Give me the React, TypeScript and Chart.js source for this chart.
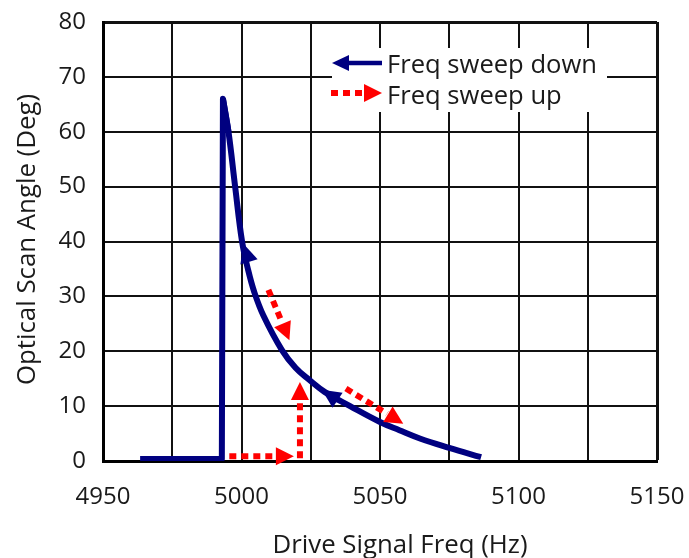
import React, { useEffect, useRef } from 'react';
import { Chart, registerables } from 'chart.js';
Chart.register(...registerables);

// Axis ranges
const X_MIN = 4950;
const X_MAX = 5150;
const X_STEP = 25;
const X_LABEL_STEP = 50;
const Y_MIN = 0;
const Y_MAX = 80;
const Y_STEP = 10;

// Frequency sweep down: flat part and jump (straight segments)
const JUMP_FREQ = [4963.4, 4992.9, 4993.3, 4995.3];
const JUMP_ANGLE = [0.36, 0.36, 66.0, 60];

// Frequency sweep down: decay from the peak (smooth curve)
const DECAY_FREQ = [4993.3, 4995.3, 4997.7, 5000.2, 5002.4, 5004.6, 5007.9, 5014.6, 5019.5, 5024.4, 5030, 5039.2, 5050, 5057, 5064.4, 5075, 5086.5];
const DECAY_ANGLE = [66.0, 60, 50, 40, 34.8, 30.8, 26.5, 20.2, 17.0, 14.8, 12.6, 10.0, 7.1, 5.6, 4.1, 2.4, 0.7];

// Arrowheads on sweep-down curve (from -> tip)
const DOWN_HEAD_FROM_X = [5003.0, 5034.3];
const DOWN_HEAD_FROM_Y = [35.8, 11.2];
const DOWN_HEAD_TIP_X = [5000.7, 5029.0];
const DOWN_HEAD_TIP_Y = [39.6, 13.0];

// Frequency sweep up arrows (from -> tip)
const UP_FROM_X = [5009.7, 4995.6, 5021.1, 5037.7];
const UP_FROM_Y = [31.2, 0.85, 0.5, 13.2];
const UP_TIP_X = [5017.3, 5018.9, 5021.1, 5058.4];
const UP_TIP_Y = [22.0, 0.85, 14.4, 6.8];

const LEGEND_LABELS = ['Freq sweep down', 'Freq sweep up'];
const X_TITLE = 'Drive Signal Freq (Hz)';
const Y_TITLE = 'Optical Scan Angle (Deg)';

const BLUE = '#000080';
const RED = '#ff0000';
const TEXT = '#1a1a1a';
const FONT = "'Open Sans', sans-serif";

function head(ctx: CanvasRenderingContext2D, fx: number, fy: number, tx: number, ty: number, len: number, hw: number, color: string) {
  const dx = tx - fx, dy = ty - fy;
  const d = Math.hypot(dx, dy) || 1;
  const ux = dx / d, uy = dy / d;
  const bx = tx - ux * len, by = ty - uy * len;
  ctx.beginPath();
  ctx.moveTo(tx, ty);
  ctx.lineTo(bx - uy * hw, by + ux * hw);
  ctx.lineTo(bx + uy * hw, by - ux * hw);
  ctx.closePath();
  ctx.fillStyle = color;
  ctx.fill();
}

function dashedArrow(ctx: CanvasRenderingContext2D, fx: number, fy: number, tx: number, ty: number) {
  const dx = tx - fx, dy = ty - fy;
  const d = Math.hypot(dx, dy) || 1;
  const ux = dx / d, uy = dy / d;
  const len = 18;
  ctx.save();
  ctx.strokeStyle = RED;
  ctx.lineWidth = 6;
  ctx.lineCap = 'butt';
  ctx.setLineDash([7, 5]);
  ctx.beginPath();
  ctx.moveTo(fx, fy);
  ctx.lineTo(tx - ux * (len + 1), ty - uy * (len + 1));
  ctx.stroke();
  ctx.restore();
  head(ctx, fx, fy, tx, ty, len, 9, RED);
}

const arrowsPlugin = {
  id: 'arrows',
  afterDatasetsDraw(chart: any) {
    const { ctx, scales } = chart;
    const xs = scales.x, ys = scales.y;
    ctx.save();
    for (let i = 0; i < DOWN_HEAD_TIP_X.length; i++) {
      head(ctx,
        xs.getPixelForValue(DOWN_HEAD_FROM_X[i]), ys.getPixelForValue(DOWN_HEAD_FROM_Y[i]),
        xs.getPixelForValue(DOWN_HEAD_TIP_X[i]), ys.getPixelForValue(DOWN_HEAD_TIP_Y[i]),
        19, 9, BLUE);
    }
    for (let i = 0; i < UP_TIP_X.length; i++) {
      dashedArrow(ctx,
        xs.getPixelForValue(UP_FROM_X[i]), ys.getPixelForValue(UP_FROM_Y[i]),
        xs.getPixelForValue(UP_TIP_X[i]), ys.getPixelForValue(UP_TIP_Y[i]));
    }
    ctx.restore();
  },
};

const legendPlugin = {
  id: 'customLegend',
  afterDatasetsDraw(chart: any) {
    const { ctx, chartArea } = chart;
    const L = chartArea.left, T = chartArea.top;
    ctx.save();
    ctx.fillStyle = '#ffffff';
    ctx.fillRect(L + 229, T + 26, 275, 64);
    // row 1: blue arrow pointing left
    const y1 = T + 41;
    ctx.strokeStyle = BLUE;
    ctx.lineWidth = 4.5;
    ctx.beginPath();
    ctx.moveTo(L + 244, y1);
    ctx.lineTo(L + 279, y1);
    ctx.stroke();
    head(ctx, L + 279, y1, L + 229, y1, 17, 8, BLUE);
    // row 2: red dotted arrow pointing right
    const y2 = T + 71;
    dashedArrow(ctx, L + 228, y2, L + 279, y2);
    ctx.fillStyle = TEXT;
    ctx.font = `25.6px ${FONT}`;
    ctx.textAlign = 'left';
    ctx.textBaseline = 'alphabetic';
    ctx.fillText(LEGEND_LABELS[0], L + 284, T + 51);
    ctx.fillText(LEGEND_LABELS[1], L + 284, T + 82);
    ctx.restore();
  },
};

const titlesPlugin = {
  id: 'axisTitles',
  afterDraw(chart: any) {
    const { ctx, chartArea } = chart;
    ctx.save();
    ctx.fillStyle = TEXT;
    ctx.font = `25.8px ${FONT}`;
    ctx.textAlign = 'center';
    ctx.textBaseline = 'alphabetic';
    ctx.fillText(X_TITLE, (chartArea.left + chartArea.right) / 2 + 20, chartArea.bottom + 92);
    ctx.translate(chartArea.left - 68, (chartArea.top + chartArea.bottom) / 2 - 2);
    ctx.rotate(-Math.PI / 2);
    ctx.fillText(Y_TITLE, 0, 0);
    ctx.restore();
  },
};

export default function App() {
  const ref = useRef<HTMLCanvasElement>(null);
  useEffect(() => {
    if (!ref.current) return;
    const chart = new Chart(ref.current, {
      type: 'line',
      data: {
        datasets: [
          {
            label: LEGEND_LABELS[0],
            data: JUMP_FREQ.map((x, i) => ({ x, y: JUMP_ANGLE[i] })),
            borderColor: BLUE,
            backgroundColor: BLUE,
            borderWidth: 6,
            borderJoinStyle: 'round',
            pointRadius: 0,
            tension: 0,
            fill: false,
          },
          {
            label: LEGEND_LABELS[0],
            data: DECAY_FREQ.map((x, i) => ({ x, y: DECAY_ANGLE[i] })),
            borderColor: BLUE,
            backgroundColor: BLUE,
            borderWidth: 6,
            borderJoinStyle: 'round',
            pointRadius: 0,
            tension: 0.4,
            fill: false,
          },
        ],
      },
      options: {
        responsive: false,
        animation: false,
        layout: { padding: { left: 0, top: 22, right: 32, bottom: 0 } },
        plugins: { legend: { display: false }, tooltip: { enabled: false } },
        scales: {
          x: {
            type: 'linear',
            min: X_MIN,
            max: X_MAX,
            afterFit: (s: any) => { s.height = 97; s.paddingLeft = 0; s.paddingRight = 0; },
            ticks: {
              stepSize: X_STEP,
              autoSkip: false,
              maxRotation: 0,
              padding: 22,
              color: TEXT,
              font: { family: FONT, size: 24 },
              callback: (v: any) => (Number(v) % X_LABEL_STEP === 0 ? String(v) : ''),
            },
            grid: {
              color: '#111',
              lineWidth: (c: any) => (c.tick && c.tick.value === X_MAX ? 3 : 2),
              drawTicks: false,
            },
            border: { display: true, color: '#000', width: 3 },
          },
          y: {
            type: 'linear',
            min: Y_MIN,
            max: Y_MAX,
            afterFit: (s: any) => { s.width = 103; s.paddingTop = 0; s.paddingBottom = 0; },
            ticks: {
              stepSize: Y_STEP,
              padding: 17,
              color: TEXT,
              font: { family: FONT, size: 24 },
            },
            grid: {
              color: '#111',
              lineWidth: (c: any) => (c.tick && c.tick.value === Y_MAX ? 3 : 2),
              drawTicks: false,
            },
            border: { display: true, color: '#000', width: 3 },
          },
        },
      },
      plugins: [arrowsPlugin, legendPlugin, titlesPlugin],
    } as any);
    return () => chart.destroy();
  }, []);
  return (
    <div style={{ position: 'fixed', left: 0, top: 0, width: 689, height: 558, background: '#fff' }}>
      <canvas ref={ref} width={689} height={558} />
    </div>
  );
}
